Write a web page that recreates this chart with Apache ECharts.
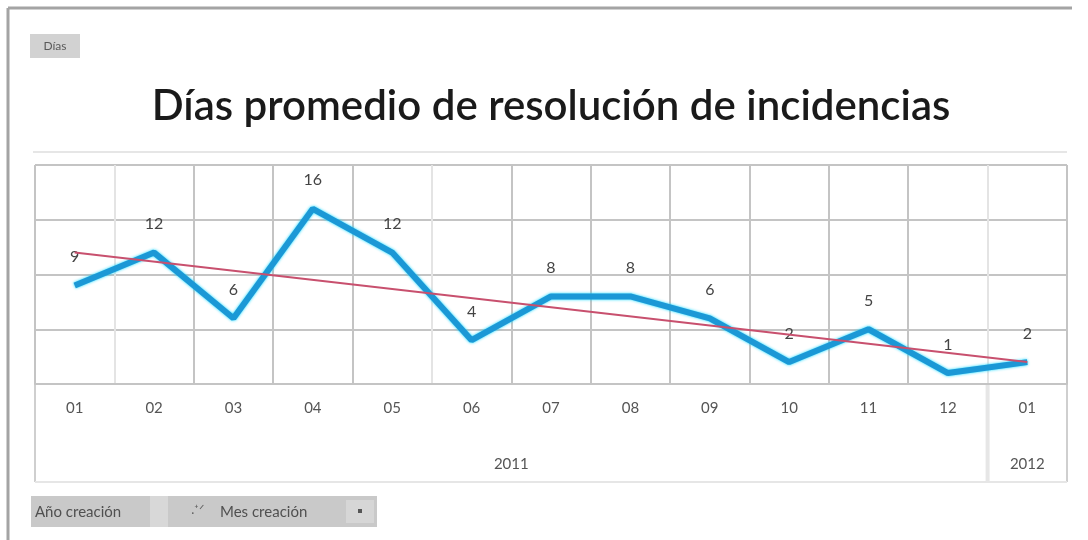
<!DOCTYPE html>
<html>
<head>
<meta charset="utf-8">
<script src="https://cdn.jsdelivr.net/npm/echarts@6/dist/echarts.min.js"></script>
<style>
  html, body { margin: 0; padding: 0; background: #ffffff; }
  #chart { width: 1088px; height: 540px; }
</style>
</head>
<body>
<div id="chart"></div>
<script>
// Mes de creación (eje de categorías) y año al que pertenece cada grupo
const meses = ['01', '02', '03', '04', '05', '06', '07', '08', '09', '10', '11', '12', '01'];
const anios = ['2011', '2012'];
const mesesPorAnio = [12, 1];

// Días promedio de resolución por mes
const dias = [9, 12, 6, 16, 12, 4, 8, 8, 6, 2, 5, 1, 2];

// Línea de tendencia lineal: valor en el primer y en el último mes
const tendencia = [12.0, 2.0];

// Escala del eje de valores (oculto)
const ejeMin = 0, ejeMax = 20, ejeIntervalo = 5;

const chart = echarts.init(document.getElementById('chart'), null, { renderer: 'canvas' });

const FONT = 'Lato, "Liberation Sans", sans-serif';
const gridLeft = 35, gridRight = 21, gridTop = 165, gridBottom = 156;

// Colores de las divisiones verticales (algunas aparecen más claras)
const splitColors = meses.concat(['']).map(function (m, i) {
  return (i === 1 || i === 5 || i === 12) ? '#e4e4e4' : '#c4c4c4';
});

const option = {
  backgroundColor: '#ffffff',
  animation: false,
  grid: { left: gridLeft, right: gridRight, top: gridTop, bottom: gridBottom, containLabel: false },
  xAxis: {
    type: 'category',
    data: meses,
    boundaryGap: true,
    axisLine: { show: true, lineStyle: { color: '#c4c4c4', width: 2 } },
    axisTick: { show: false },
    axisLabel: { color: '#555555', fontFamily: FONT, fontSize: 15, margin: 17 },
    splitLine: { show: true, lineStyle: { color: splitColors, width: 2 } }
  },
  yAxis: {
    type: 'value',
    min: ejeMin, max: ejeMax, interval: ejeIntervalo,
    axisLine: { show: false },
    axisTick: { show: false },
    axisLabel: { show: false },
    splitLine: { show: true, lineStyle: { color: '#c4c4c4', width: 2 } }
  },
  series: [
    {
      name: 'Días',
      type: 'line',
      data: dias,
      symbol: 'circle',
      symbolSize: 1,
      itemStyle: { color: 'rgba(0,0,0,0)' },
      lineStyle: {
        color: '#1b98d6', width: 6,
        shadowColor: 'rgba(0, 215, 255, 0.95)', shadowBlur: 3
      },
      label: {
        show: true, position: 'top', distance: 20,
        color: '#444444', fontFamily: FONT, fontSize: 16
      },
      z: 3
    },
    {
      name: 'Tendencia',
      type: 'line',
      data: [[0, tendencia[0]], [meses.length - 1, tendencia[1]]],
      symbol: 'none',
      lineStyle: { color: '#c8506e', width: 2 },
      z: 4
    }
  ]
};

chart.setOption(option);

// Elementos de la tabla dinámica: título, botones de campo, rótulos de año
function dibujarExtras() {
  const y0 = chart.convertToPixel({ yAxisIndex: 0 }, ejeMin);
  const left = gridLeft;
  const right = 1088 - gridRight;
  const bandBottom = y0 + 98;
  const paso = chart.convertToPixel({ xAxisIndex: 0 }, 1) - chart.convertToPixel({ xAxisIndex: 0 }, 0);

  const graphics = [];

  // Marco exterior
  graphics.push({ type: 'line', shape: { x1: 8, y1: 8, x2: 1072, y2: 8 }, style: { stroke: '#a4a4a4', lineWidth: 3 } });
  graphics.push({ type: 'line', shape: { x1: 8, y1: 8, x2: 8, y2: 540 }, style: { stroke: '#a4a4a4', lineWidth: 3 } });

  // Separador bajo el título
  graphics.push({ type: 'line', shape: { x1: 33, y1: 152, x2: right, y2: 152 }, style: { stroke: '#e6e6e6', lineWidth: 2 } });

  // Botón de valores
  graphics.push({ type: 'rect', shape: { x: 30, y: 34, width: 50, height: 24 }, style: { fill: '#d2d2d2' } });
  graphics.push({ type: 'text', x: 55, y: 46, style: { text: 'Días', fill: '#5a5a5a', font: '12px ' + FONT, textAlign: 'center', textVerticalAlign: 'middle' } });

  // Título
  graphics.push({
    type: 'text', x: 551, y: 106,
    style: { text: 'Días promedio de resolución de incidencias', fill: '#1a1a1a', font: '600 42px ' + FONT, textAlign: 'center', textVerticalAlign: 'middle' }
  });

  // Zona de rótulos de año
  graphics.push({ type: 'line', shape: { x1: left, y1: y0, x2: left, y2: bandBottom }, style: { stroke: '#cfcfcf', lineWidth: 2 } });
  graphics.push({ type: 'line', shape: { x1: right, y1: y0, x2: right, y2: bandBottom }, style: { stroke: '#cfcfcf', lineWidth: 2 } });
  graphics.push({ type: 'line', shape: { x1: left, y1: bandBottom, x2: right, y2: bandBottom }, style: { stroke: '#e6e6e6', lineWidth: 2 } });

  let start = 0;
  anios.forEach(function (anio, k) {
    const n = mesesPorAnio[k];
    const xa = chart.convertToPixel({ xAxisIndex: 0 }, start);
    const xb = chart.convertToPixel({ xAxisIndex: 0 }, start + n - 1);
    graphics.push({ type: 'text', x: (xa + xb) / 2, y: y0 + 80, style: { text: anio, fill: '#555555', font: '15px ' + FONT, textAlign: 'center', textVerticalAlign: 'middle' } });
    if (k > 0) {
      const xs = xa - paso / 2;
      graphics.push({ type: 'line', shape: { x1: xs, y1: y0, x2: xs, y2: bandBottom }, style: { stroke: '#e6e6e6', lineWidth: 4 } });
    }
    start += n;
  });

  // Botones de campo del eje
  graphics.push({ type: 'rect', shape: { x: 31, y: 496, width: 346, height: 31 }, style: { fill: '#c9c9c9' } });
  graphics.push({ type: 'rect', shape: { x: 150, y: 496, width: 18, height: 31 }, style: { fill: '#d8d8d8' } });
  graphics.push({ type: 'text', x: 35, y: 512, style: { text: 'Año creación', fill: '#505050', font: '15px ' + FONT, textAlign: 'left', textVerticalAlign: 'middle' } });
  graphics.push({ type: 'text', x: 198, y: 510, style: { text: '.⁺ᐟ', fill: '#606060', font: '13px ' + FONT, textAlign: 'center', textVerticalAlign: 'middle' } });
  graphics.push({ type: 'text', x: 220, y: 512, style: { text: 'Mes creación', fill: '#505050', font: '15px ' + FONT, textAlign: 'left', textVerticalAlign: 'middle' } });
  graphics.push({ type: 'rect', shape: { x: 346, y: 500, width: 28, height: 23 }, style: { fill: '#d6d6d6' } });
  graphics.push({ type: 'rect', shape: { x: 358, y: 509, width: 4, height: 4 }, style: { fill: '#555555' } });

  chart.setOption({ graphic: graphics });
}

dibujarExtras();
</script>
</body>
</html>
